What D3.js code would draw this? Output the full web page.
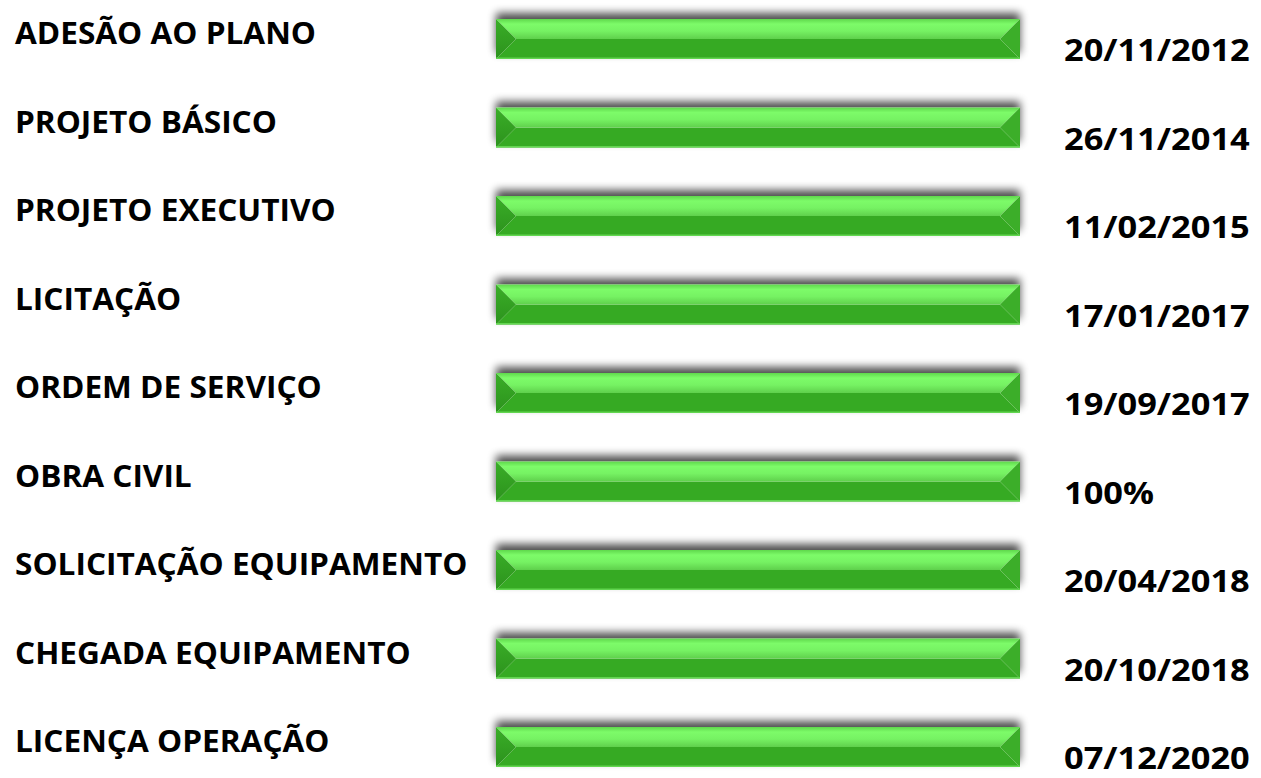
<!DOCTYPE html>
<html>
<head>
<meta charset="utf-8">
<script src="https://cdn.jsdelivr.net/npm/d3@7"></script>
<style>
  html, body { margin: 0; padding: 0; background: #ffffff; }
  svg { display: block; }
  .stage-label, .status-label {
    font-family: "Open Sans", "Noto Sans", sans-serif;
    font-weight: 700;
    fill: #000000;
  }
</style>
</head>
<body>
<svg id="chart"></svg>
<script>
// stages of the project, top to bottom
var stages = [
  "ADESÃO AO PLANO",
  "PROJETO BÁSICO",
  "PROJETO EXECUTIVO",
  "LICITAÇÃO",
  "ORDEM DE SERVIÇO",
  "OBRA CIVIL",
  "SOLICITAÇÃO EQUIPAMENTO",
  "CHEGADA EQUIPAMENTO",
  "LICENÇA OPERAÇÃO"
];

// completion of each stage, in percent
var progress = [100, 100, 100, 100, 100, 100, 100, 100, 100];

// text shown to the right of each bar
var statusLabels = [
  "20/11/2012",
  "26/11/2014",
  "11/02/2015",
  "17/01/2017",
  "19/09/2017",
  "100%",
  "20/04/2018",
  "20/10/2018",
  "07/12/2020"
];

function main()
{
  var width = 1261, height = 778;
  var barHeight = 40;
  var bevel = barHeight / 2;

  var rows = stages.map(function (s, i) {
    return { stage: s, value: progress[i], status: statusLabels[i] };
  });

  var svg = d3.select("#chart")
    .attr("width", width)
    .attr("height", height);

  // x runs from 0% to 100% across the bar area
  var x = d3.scaleLinear().domain([0, 100]).range([496, 1020]);
  // y gives the top of each row's bar
  var y = d3.scalePoint().domain(stages).range([19, 727]);

  var defs = svg.append("defs");

  // soft grey shadow that mostly shows above the bar
  var shadow = defs.append("filter")
    .attr("id", "bar-shadow")
    .attr("x", "-5%").attr("y", "-70%")
    .attr("width", "110%").attr("height", "220%");
  shadow.append("feGaussianBlur").attr("in", "SourceAlpha").attr("stdDeviation", 4).attr("result", "blur");
  shadow.append("feOffset").attr("in", "blur").attr("dy", -6).attr("result", "off");
  shadow.append("feComponentTransfer").attr("in", "off")
    .append("feFuncA").attr("type", "linear").attr("slope", 0.7);

  // light gradient for the upper bevel face
  var topGrad = defs.append("linearGradient")
    .attr("id", "top-face")
    .attr("x1", 0).attr("y1", 0).attr("x2", 0).attr("y2", 1);
  [["0%", "#5fd84c"], ["25%", "#7dfb69"], ["60%", "#76f263"], ["100%", "#5fd04c"]].forEach(function (s) {
    topGrad.append("stop").attr("offset", s[0]).attr("stop-color", s[1]);
  });

  // left facet is lighter at the top, darker at the bottom
  var leftGrad = defs.append("linearGradient")
    .attr("id", "left-face")
    .attr("x1", 0).attr("y1", 0).attr("x2", 0).attr("y2", 1);
  [["0%", "#3aae28"], ["50%", "#33a022"], ["100%", "#2c921d"]].forEach(function (s) {
    leftGrad.append("stop").attr("offset", s[0]).attr("stop-color", s[1]);
  });

  var row = svg.append("g")
    .attr("class", "rows")
    .selectAll(".row")
    .data(rows)
    .enter()
    .append("g")
    .attr("class", "row");

  // shadow layer
  row.append("rect")
    .attr("x", x(0))
    .attr("y", function (d) { return y(d.stage); })
    .attr("width", function (d) { return x(d.value) - x(0); })
    .attr("height", barHeight)
    .attr("fill", "#000")
    .attr("filter", "url(#bar-shadow)");

  // white base so the shadow does not tint the bar
  row.append("rect")
    .attr("x", x(0))
    .attr("y", function (d) { return y(d.stage); })
    .attr("width", function (d) { return x(d.value) - x(0); })
    .attr("height", barHeight)
    .attr("fill", "#ffffff");

  // bevel facets
  function facet(fn, fill) {
    row.append("path")
      .attr("d", function (d) {
        var x0 = x(0), x1 = x(d.value), t = y(d.stage);
        return "M" + fn(x0, x1, t).map(function (p) { return p.join(","); }).join("L") + "Z";
      })
      .attr("fill", fill);
  }

  // lower face
  facet(function (x0, x1, t) {
    return [[x0, t + barHeight], [x1, t + barHeight], [x1 - bevel, t + bevel], [x0 + bevel, t + bevel]];
  }, "#36aa23");
  // upper face
  facet(function (x0, x1, t) {
    return [[x0, t], [x1, t], [x1 - bevel, t + bevel], [x0 + bevel, t + bevel]];
  }, "url(#top-face)");
  // left end
  facet(function (x0, x1, t) {
    return [[x0, t], [x0 + bevel, t + bevel], [x0, t + barHeight]];
  }, "url(#left-face)");
  // right end
  facet(function (x0, x1, t) {
    return [[x1, t], [x1 - bevel, t + bevel], [x1, t + barHeight]];
  }, "#3cae29");

  // thin light rim along the bottom edge
  row.append("line")
    .attr("x1", x(0))
    .attr("x2", function (d) { return x(d.value); })
    .attr("y1", function (d) { return y(d.stage) + barHeight - 0.75; })
    .attr("y2", function (d) { return y(d.stage) + barHeight - 0.75; })
    .attr("stroke", "#62d650")
    .attr("stroke-width", 1.5);

  // stage names on the left
  row.append("text")
    .attr("class", "stage-label")
    .attr("font-size", 31)
    .attr("transform", function (d) { return "translate(15," + (y(d.stage) + 25) + ") scale(1.02,1)"; })
    .text(function (d) { return d.stage; });

  // dates / status on the right
  row.append("text")
    .attr("class", "status-label")
    .attr("font-size", 31)
    .attr("transform", function (d) { return "translate(1064," + (y(d.stage) + 42) + ") scale(1.11,1)"; })
    .text(function (d) { return d.status; });
}

main();
</script>
</body>
</html>
